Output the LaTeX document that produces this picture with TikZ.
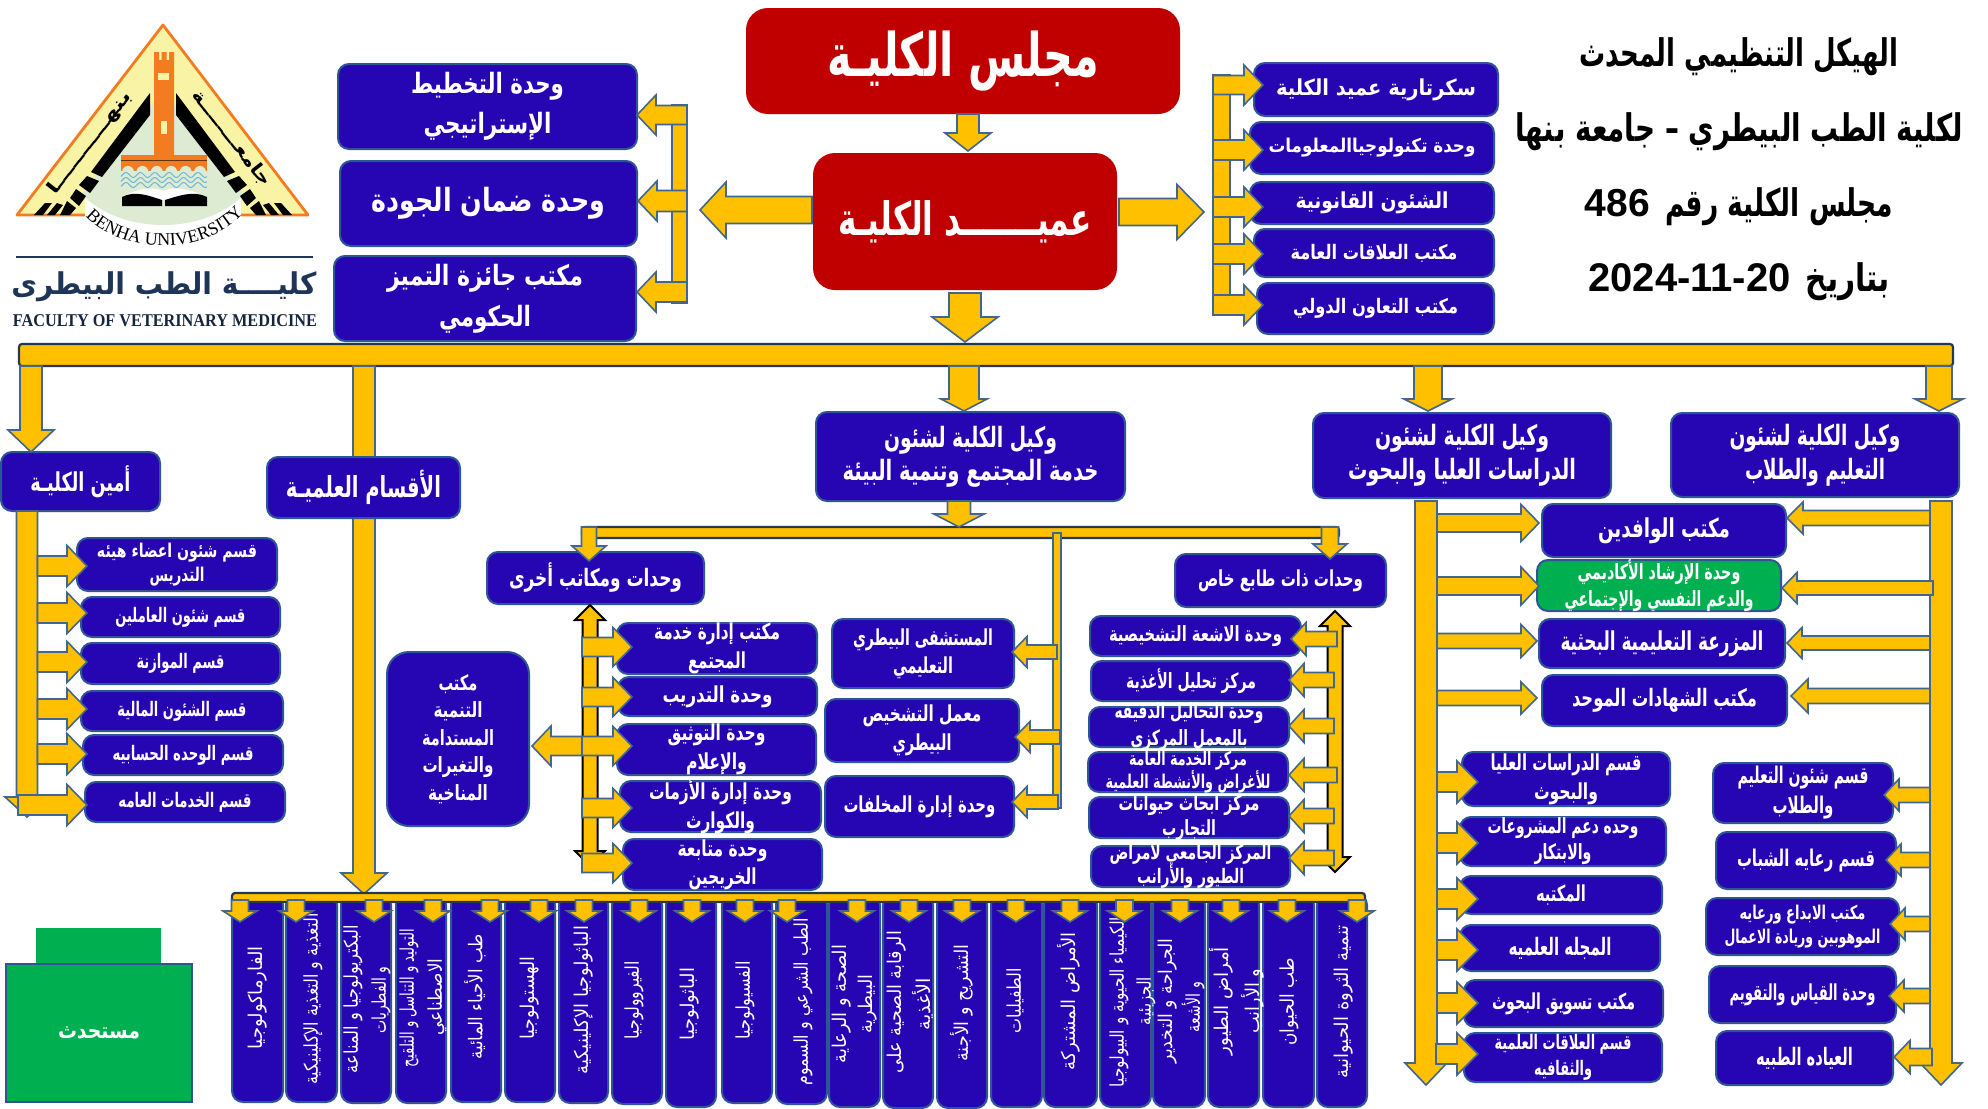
\documentclass[tikz,border=0pt]{standalone}
\usepackage{fontspec}
\usetikzlibrary{calc,decorations.text}
\TeXXeTstate=1
\newfontfamily\ar[Script=Arabic]{DejaVu Sans}
\newfontfamily\lat{Liberation Sans}
\newfontfamily\serifl{Liberation Serif}
\definecolor{ay}{HTML}{FFC000}
\definecolor{ab}{HTML}{41668F}
\definecolor{bf}{HTML}{2605B3}
\definecolor{bb}{HTML}{2F5597}
\definecolor{rf}{HTML}{C00000}
\definecolor{gf}{HTML}{00B050}
\definecolor{navy}{HTML}{1F3557}
\definecolor{orng}{HTML}{F47C20}
\definecolor{pyel}{HTML}{F9F3A5}
\definecolor{pgrn}{HTML}{DDEBD3}
\definecolor{wave}{HTML}{6FB7D8}
\tikzset{
  bluebox/.style={rectangle,rounded corners=5.5pt,fill=bf,draw=bb,line width=1pt,inner sep=0pt,outer sep=0pt},
  bigblue/.style={bluebox,rounded corners=11pt},
  redbox/.style={rectangle,rounded corners=11pt,fill=rf,draw=none,inner sep=0pt,outer sep=0pt},
  greenbox/.style={bluebox,fill=gf},
  txt/.style={inner sep=0pt,outer sep=0pt,align=center,text=white},
  vtext/.style={inner sep=0pt,outer sep=0pt,align=center,text=white,rotate=90,font=\ar\fontsize{9.5}{12}\selectfont},
  ya/.style={fill=ay,draw=ab,line width=0.8pt,line join=miter},
  yb/.style={fill=ay,draw=black,line width=1pt,line join=miter},
  barstyle/.style={rectangle,fill=ay,draw=ab,line width=0.9pt,inner sep=0pt,outer sep=0pt,minimum width=1pt},
  mainbarstyle/.style={barstyle,draw=black!45!ab,rounded corners=1.5pt,line width=1.1pt},
}
\newcommand\TL[2]{\resizebox{\dimexpr#1pt/2\relax}{\height}{#2}}
\def\bxdx{0}\def\bxdy{0}
\newcommand\off[2]{\def\bxdx{#1}\def\bxdy{#2}}
% rectangle node from corners
\newcommand\RC[6][barstyle]{\node[#1,minimum width={(#5-#3)*0.5pt},minimum height={(#6-#4)*0.5pt}] (#2) at ({(#3+#5)/2},{(#4+#6)/2}) {};}
% box + its text
\newcommand\BX[9][bluebox]{\RC[#1]{#2}{#3}{#4}{#5}{#6}%
  \node[txt,font=\ar\bfseries\fontsize{#7}{#8}\selectfont] (#2t) at ($(#2.center)+(\bxdx,\bxdy)$) {#9};\off{0}{0}}
\newcommand\VL[5]{\node[vtext] (#1) at (#2,#3) {\TL{#4}{#5}};}
% block arrow between two named coordinates: from,to,shaft half,head half,head length (px)
\newcommand\BA[6][ya]{%
  \coordinate (bna) at ($(#3)!#6*0.5pt!(#2)$);
  \draw[#1] ($(#2)!#4*0.5pt!90:(#3)$) -- ($(bna)!#4*0.5pt!-90:(#2)$) -- ($(bna)!#5*0.5pt!-90:(#2)$) -- (#3)
    -- ($(bna)!#5*0.5pt!90:(#2)$) -- ($(bna)!#4*0.5pt!90:(#2)$) -- ($(#2)!#4*0.5pt!-90:(#3)$) -- cycle;}
\newcommand\DA[5]{%
  \coordinate (bna) at ($(#1)!#5*0.5pt!(#2)$);
  \coordinate (bnb) at ($(#2)!#5*0.5pt!(#1)$);
  \draw[yb] (#1) -- ($(bna)!#4*0.5pt!-90:(#2)$) -- ($(bna)!#3*0.5pt!-90:(#2)$) -- ($(bnb)!#3*0.5pt!90:(#1)$) -- ($(bnb)!#4*0.5pt!90:(#1)$) -- (#2)
    -- ($(bnb)!#4*0.5pt!-90:(#1)$) -- ($(bnb)!#3*0.5pt!-90:(#1)$) -- ($(bna)!#3*0.5pt!90:(#2)$) -- ($(bna)!#4*0.5pt!90:(#2)$) -- cycle;}
% horizontal connector: from,sdx,to,tdx,cy,w,H,L
\newcommand\HC[8]{%
  \coordinate (tmpy) at (0,#5);
  \coordinate (tmpa) at ($(#1 |- tmpy)+(#2,0)$);
  \coordinate (tmpb) at ($(#3 |- tmpy)+(#4,0)$);
  \BA{tmpa}{tmpb}{#6}{#7}{#8}}
% vertical connector: from,sdy,to,tdy,cx,w,H,L
\newcommand\VC[8]{%
  \coordinate (tmpx) at (#5,0);
  \coordinate (tmpa) at ($(tmpx |- #1)+(0,#2)$);
  \coordinate (tmpb) at ($(tmpx |- #3)+(0,#4)$);
  \BA{tmpa}{tmpb}{#6}{#7}{#8}}
\begin{document}
\begin{tikzpicture}[x=0.5pt,y=-0.5pt]
\useasboundingbox (0,0) rectangle (1988,1109);
\fill[white] (0,0) rectangle (1988,1109);
%%% LOGO
\draw[fill=pyel,draw=orng,line width=1.4pt,line join=round] (163,25) -- (308,215) -- (17,215) -- cycle;
\fill[white] (85,190) rectangle (241,217);
\begin{scope}
\clip (163,90) -- (270,228) -- (56,228) -- cycle;
\fill[pgrn] (163,155) ellipse [x radius=98,y radius=70];
\end{scope}
\foreach \m/\s in {0/1,326/-1}{
  \fill[black] ({\m+\s*150},93) -- ({\m+\s*91},172) -- ({\m+\s*102},177) -- ({\m+\s*150},115) -- cycle;
  \fill[black] ({\m+\s*87},176) -- ({\m+\s*99},181) -- ({\m+\s*90},193) -- ({\m+\s*79},185) -- cycle;
  \fill[black] ({\m+\s*76},189) -- ({\m+\s*86},196) -- ({\m+\s*79},206) -- ({\m+\s*70},198) -- cycle;
  \fill[black] ({\m+\s*67},201) -- ({\m+\s*76},208) -- ({\m+\s*70},215) -- ({\m+\s*60},215) -- cycle;
  \fill[black] ({\m+\s*57},203) -- ({\m+\s*63},205) -- ({\m+\s*55},215) -- ({\m+\s*47},215) -- cycle;
  \fill[black] ({\m+\s*45},203) -- ({\m+\s*52},203) -- ({\m+\s*43},215) -- ({\m+\s*34},215) -- cycle;
}
\fill[orng] (154,52) -- (159,52) -- (159,60) -- (161.5,60) -- (161.5,52) -- (166.5,52) -- (166.5,60) -- (169,60) -- (169,52) -- (174,52) -- (174,155) -- (154,155) -- cycle;
\fill[pyel] (158,73) rectangle (169,80);
\fill[pyel] (161,121) rectangle (167,134);
\fill[orng] (121,155) rectangle (207,171);
\draw[black!60!orng,line width=0.4pt] (121,160) -- (207,160);
\foreach \k in {0,...,5}{\fill[pgrn] ({128+\k*14.4},172) circle [radius=6];}
\foreach \yy in {175,180,185}{
  \draw[wave,line width=0.5pt] plot[domain=121:207,samples=60] (\x,{\yy+2.5*sin(\x*25)});
}
\fill[white] (122,197) .. controls (140,187) and (155,187) .. (163,191) .. controls (171,187) and (186,187) .. (207,197) -- (207,200) -- (122,200) -- cycle;
\fill[black] (122,197) .. controls (135,190) and (150,196) .. (162,200) -- (162,206) -- (122,206) -- cycle;
\fill[black] (207,197) .. controls (194,190) and (178,196) .. (165,200) -- (165,206) -- (207,206) -- cycle;
\path[decorate,decoration={text along path,text align=center,text={|\serifl\fontsize{9}{11}\selectfont|BENHA UNIVERSITY}}]
  (83,213) .. controls (118,257) and (210,257) .. (246,210);
\node[inner sep=0pt,rotate=52,font=\ar\bfseries\fontsize{9}{10}\selectfont] (lgl) at (90,143) {\TL{125}{\beginR بنهــــــــــا\endR}};
\node[inner sep=0pt,rotate=-52,font=\ar\bfseries\fontsize{9}{10}\selectfont] (lgr) at (232,138) {\TL{117}{\beginR جامعــــــــة\endR}};
\draw[navy,line width=1pt] (16,257) -- (313,257);
\node[inner sep=0pt,text=navy,font=\ar\bfseries\fontsize{15}{18}\selectfont] (lgn) at (164,287) {\TL{305}{\beginR كليــــة الطب البيطرى\endR}};
\node[inner sep=0pt,text=navy!70!black,font=\serifl\bfseries\fontsize{9}{10}\selectfont] (lge) at (165,321) {\resizebox{152pt}{\height}{FACULTY OF VETERINARY MEDICINE}};
%%% TITLE
\node[txt,text=black,font=\ar\bfseries\fontsize{19}{22}\selectfont] (t1) at (1739,57) {\TL{319}{\beginR الهيكل التنظيمي المحدث\endR}};
\node[txt,text=black,font=\ar\bfseries\fontsize{19}{22}\selectfont] (t2) at (1739,132) {\TL{448}{\beginR لكلية الطب البيطري – جامعة بنها\endR}};
\node[txt,text=black,font=\ar\bfseries\fontsize{19}{22}\selectfont] (t3) at (1739,207) {{\lat\bfseries\fontsize{19.5}{22}\selectfont 486}\hspace{7.5pt}\TL{228}{\beginR مجلس الكلية رقم\endR}};
\node[txt,text=black,font=\ar\bfseries\fontsize{19}{22}\selectfont] (t4) at (1739,282) {{\lat\bfseries\fontsize{20}{22}\selectfont 2024-11-20}\hspace{7.5pt}\TL{84}{\beginR بتاريخ\endR}};
%%% TOP BOXES
\BX[redbox]{council}{746}{8}{1180}{114}{30}{36}{\TL{272}{\beginR مجلس الكليـة\endR}}
\BX[redbox]{dean}{813}{153}{1117}{290}{23}{28}{\TL{254}{\beginR عميـــــــد الكليـة\endR}}
\BX{boxA}{338}{64}{637}{149}{14}{20}{\TL{153}{\beginR وحدة التخطيط\endR}\\\TL{128}{\beginR الإستراتيجي\endR}}
\BX{boxB}{340}{161}{637}{246}{16}{20}{\TL{234}{\beginR وحدة ضمان الجودة\endR}}
\BX{boxC}{334}{256}{636}{341}{14}{20.5}{\TL{196}{\beginR مكتب جائزة التميز\endR}\\\TL{92}{\beginR الحكومي\endR}}
\BX{r1}{1254}{63}{1498}{116}{11}{14}{\TL{200}{\beginR سكرتارية عميد الكلية\endR}}
\BX{r2}{1250}{122}{1494}{174}{9.5}{14}{\TL{207}{\beginR وحدة تكنولوجياالمعلومات\endR}}
\BX{r3}{1250}{182}{1494}{224}{11}{14}{\TL{153}{\beginR الشئون القانونية\endR}}
\BX{r4}{1254}{229}{1494}{277}{10}{14}{\TL{167}{\beginR مكتب العلاقات العامة\endR}}
\BX{r5}{1257}{283}{1494}{334}{10}{14}{\TL{165}{\beginR مكتب التعاون الدولي\endR}}
\RC{ltrunk}{672}{105}{687}{303}
\RC{rtrunk}{1213}{75}{1230}{315}
\VC{council.south}{0}{dean.north}{-2}{968}{11}{23}{18}
\HC{dean.west}{-1}{ltrunk.east}{13}{210}{13.5}{28}{26}
\HC{dean.east}{2}{rtrunk.west}{-9}{212}{13.5}{27.5}{27}
\HC{ltrunk.east}{0}{boxA.east}{0}{115}{9.5}{20}{19}
\HC{ltrunk.east}{0}{boxB.east}{1}{201}{10.5}{20}{19}
\HC{ltrunk.east}{0}{boxC.east}{1}{292}{10}{20}{19}
\HC{rtrunk.west}{0}{r1.west}{9}{85}{9.5}{20}{19}
\HC{rtrunk.west}{0}{r2.west}{13}{150}{10}{20}{19}
\HC{rtrunk.west}{0}{r3.west}{13}{207}{10}{20}{19}
\HC{rtrunk.west}{0}{r4.west}{9}{254}{10}{20}{19}
\HC{rtrunk.west}{0}{r5.west}{6}{305}{10}{20}{19}
%%% MAIN BAR & SECOND LEVEL
\RC[mainbarstyle]{mainbar}{19}{344}{1953}{366}
\VC{dean.south}{3}{mainbar.north}{-2}{965}{16}{33}{25}
\coordinate (acadend) at (364,894);
\VC{mainbar.south}{0}{acadend}{0}{364}{11}{23}{21}
\BX{amin}{1}{452}{160}{511}{13}{16}{\TL{100}{\beginR أمين الكليـة\endR}}
\BX{acad}{267}{457}{460}{518}{14.5}{18}{\TL{155}{\beginR الأقسام العلميـة\endR}}
\BX{vice3}{816}{412}{1125}{501}{14}{16.5}{\TL{173}{\beginR وكيل الكلية لشئون\endR}\\\TL{256}{\beginR خدمة المجتمع وتنمية البيئة\endR}}
\BX{vice2}{1313}{413}{1611}{498}{14}{17}{\TL{174}{\beginR وكيل الكلية لشئون\endR}\\\TL{228}{\beginR الدراسات العليا والبحوث\endR}}
\BX{vice1}{1671}{413}{1959}{497}{14}{17}{\TL{171}{\beginR وكيل الكلية لشئون\endR}\\\TL{140}{\beginR التعليم والطلاب\endR}}
\VC{mainbar.south}{0}{vice3.north}{-1}{964}{15}{23}{12}
\VC{mainbar.south}{0}{vice2.north}{-2}{1428}{14}{24}{12}
\VC{mainbar.south}{0}{vice1.north}{-2}{1939}{13}{24}{12}
\VC{mainbar.south}{0}{amin.north}{0}{31}{11}{23}{22}
%%% LEFT COLUMN
\BX{b1}{77}{538}{277}{591}{9.5}{12}{\TL{160}{\beginR قسم شئون اعضاء هيئه\endR}\\\TL{55}{\beginR التدريس\endR}}
\BX{b2}{81}{597}{280}{637}{10}{12}{\TL{130}{\beginR قسم شئون العاملين\endR}}
\BX{b3}{81}{643}{280}{684}{10}{12}{\TL{88}{\beginR قسم الموازنة\endR}}
\BX{b4}{81}{691}{283}{731}{10}{12}{\TL{129}{\beginR قسم الشئون المالية\endR}}
\BX{b5}{83}{735}{283}{775}{10}{12}{\TL{141}{\beginR قسم الوحده الحسابيه\endR}}
\BX{b6}{85}{782}{285}{822}{10}{12}{\TL{133}{\beginR قسم الخدمات العامه\endR}}
\coordinate (aend) at (27,817);
\VC{amin.south}{0}{aend}{0}{27}{10.5}{22}{20}
\HC{aend}{10.5}{b1.west}{10}{566}{10}{20.5}{20}
\HC{aend}{10.5}{b2.west}{6}{613}{10}{20.5}{20}
\HC{aend}{10.5}{b3.west}{6}{662}{10}{20.5}{20}
\HC{aend}{10.5}{b4.west}{6}{709}{10}{20.5}{20}
\HC{aend}{10.5}{b5.west}{4}{754}{10}{20.5}{20}
\HC{aend}{-9}{b6.west}{2}{805}{10}{20.5}{20}
%%% INNER BAR
\RC[mainbarstyle]{ibar}{582}{527}{1339}{538}
\RC{tbar}{1053}{533}{1061}{808}
\VC{vice3.south}{0}{ibar.north}{0}{959}{11.5}{25}{13}
\BX{others}{487}{552}{704}{604}{12}{14}{\TL{173}{\beginR وحدات ومكاتب أخرى\endR}}
\BX{special}{1175}{554}{1386}{607}{11}{14}{\TL{165}{\beginR وحدات ذات طابع خاص\endR}}
\VC{ibar.north}{0}{others.north}{9}{589}{7.5}{17}{15}
\VC{ibar.north}{0}{special.north}{5}{1330}{8.5}{17}{15}
%%% MIDDLE BOXES
\BX{m1}{832}{619}{1014}{688}{11}{14}{\TL{140}{\beginR المستشفى البيطري\endR}\\\TL{60}{\beginR التعليمي\endR}}
\BX{m2}{825}{699}{1019}{762}{11}{14.5}{\TL{119}{\beginR معمل التشخيص\endR}\\\TL{59}{\beginR البيطري\endR}}
\BX{m3}{825}{776}{1014}{837}{11}{14}{\TL{152}{\beginR وحدة إدارة المخلفات\endR}}
\HC{tbar.center}{0}{m1.east}{-2}{652}{7}{15.5}{15}
\HC{tbar.center}{3}{m2.east}{-4}{737}{7}{15.5}{15}
\HC{tbar.center}{1}{m3.east}{-2}{802}{7}{15.5}{15}
%%% SPECIAL UNITS
\BX{s1}{1090}{616}{1301}{656}{10.5}{14}{\TL{173}{\beginR وحدة الاشعة التشخيصية\endR}}
\BX{s2}{1091}{661}{1291}{701}{10.5}{14}{\TL{130}{\beginR مركز تحليل الأغذية\endR}}
\BX{s3}{1089}{707}{1289}{747}{10.5}{13.5}{\TL{149}{\beginR وحدة التحاليل الدقيقه\endR}\\\TL{117}{\beginR بالمعمل المركزى\endR}}
\BX{s4}{1088}{752}{1288}{792}{9.5}{11.5}{\TL{118}{\beginR مركز الخدمة العامة\endR}\\\TL{165}{\beginR للأغراض والأنشطة العلمية\endR}}
\BX{s5}{1089}{797}{1289}{838}{10.5}{12.5}{\TL{141}{\beginR مركز ابحاث حيوانات\endR}\\\TL{54}{\beginR التجارب\endR}}
\BX{s6}{1091}{846}{1290}{887}{10}{12}{\TL{162}{\beginR المركز الجامعي لامراض\endR}\\\TL{107}{\beginR الطيور والأرانب\endR}}
\coordinate (stop) at (1335,611);
\coordinate (sbot) at (1335,872);
\DA{stop}{sbot}{7.5}{15}{15}
\HC{stop}{2}{s1.east}{-10}{639}{7.5}{16.5}{15}
\HC{stop}{-1}{s2.east}{-2}{680}{7.5}{16.5}{15}
\HC{stop}{-1}{s3.east}{0}{726}{7.5}{16.5}{15}
\HC{stop}{2}{s4.east}{1}{775}{7.5}{16.5}{15}
\HC{stop}{-1}{s5.east}{0}{816}{7.5}{16.5}{15}
\HC{stop}{-1}{s6.east}{-1}{858}{7.5}{16.5}{15}
%%% OTHER UNITS
\BX[bigblue]{sust}{387}{652}{529}{826}{10.5}{13.75}{\TL{39}{\beginR مكتب\endR}\\\TL{49}{\beginR التنمية\endR}\\\TL{72}{\beginR المستدامة\endR}\\\TL{71}{\beginR والتغيرات\endR}\\\TL{60}{\beginR المناخية\endR}}
\BX{u1}{617}{623}{817}{674}{11}{14.5}{\TL{126}{\beginR مكتب إدارة خدمة\endR}\\\TL{58}{\beginR المجتمع\endR}}
\BX{u2}{618}{677}{817}{716}{11}{14}{\TL{110}{\beginR وحدة التدريب\endR}}
\BX{u3}{617}{724}{816}{775}{11}{14.5}{\TL{98}{\beginR وحدة التوثيق\endR}\\\TL{61}{\beginR والإعلام\endR}}
\BX{u4}{620}{781}{821}{832}{11}{14.5}{\TL{143}{\beginR وحدة إدارة الأزمات\endR}\\\TL{69}{\beginR والكوارث\endR}}
\BX{u5}{623}{839}{822}{890}{11}{14}{\TL{90}{\beginR وحدة متابعة\endR}\\\TL{68}{\beginR الخريجين\endR}}
\coordinate (utop) at (590,605);
\coordinate (ubot) at (590,866);
\DA{utop}{ubot}{7.5}{15}{15}
\HC{utop}{-8}{u1.west}{15}{647}{9.5}{19.5}{19}
\HC{utop}{-8}{u2.west}{14}{697}{9.5}{19.5}{19}
\HC{utop}{-7}{sust.east}{3}{746}{9.5}{20}{19}
\HC{utop}{-8}{u3.west}{15}{746}{9.5}{19.5}{19}
\HC{utop}{-8}{u4.west}{12}{808}{9.5}{19.5}{19}
\HC{utop}{-8}{u5.west}{9}{863}{9.5}{19.5}{19}
%%% RIGHT COLUMNS
\coordinate (v2end) at (1426,1085);
\coordinate (v1end) at (1941,1085);
\BX{c1}{1542}{504}{1786}{557}{13}{16}{\TL{132}{\beginR مكتب الوافدين\endR}}
\BX[greenbox]{c2}{1537}{560}{1781}{611}{10.5}{13.5}{\TL{163}{\beginR وحدة الإرشاد الأكاديمي\endR}\\\TL{189}{\beginR والدعم النفسي والإجتماعي\endR}}
\BX{c3}{1539}{619}{1785}{668}{13}{16}{\TL{203}{\beginR المزرعة التعليمية البحثية\endR}}
\BX{c4}{1542}{675}{1787}{726}{12}{16}{\TL{185}{\beginR مكتب الشهادات الموحد\endR}}
\BX{g1}{1462}{752}{1670}{806}{11}{14.5}{\TL{151}{\beginR قسم الدراسات  العليا\endR}\\\TL{64}{\beginR والبحوث\endR}}
\BX{g2}{1460}{817}{1666}{866}{10.5}{13}{\TL{151}{\beginR وحده دعم المشروعات\endR}\\\TL{57}{\beginR والابتكار\endR}}
\BX{g3}{1460}{876}{1662}{914}{11}{14}{\TL{50}{\beginR المكتبه\endR}}
\BX{g4}{1460}{925}{1660}{971}{12}{14}{\TL{103}{\beginR المجله العلميه\endR}}
\BX{g5}{1464}{980}{1663}{1027}{11}{14}{\TL{143}{\beginR مكتب تسويق البحوث\endR}}
\BX{g6}{1464}{1033}{1662}{1082}{10}{13}{\TL{137}{\beginR قسم العلاقات العلمية\endR}\\\TL{58}{\beginR والثقافيه\endR}}
\BX{h1}{1713}{763}{1893}{823}{11.5}{15}{\TL{131}{\beginR قسم شئون التعليم\endR}\\\TL{61}{\beginR والطلاب\endR}}
\BX{h2}{1716}{832}{1896}{889}{11.5}{14}{\TL{138}{\beginR قسم رعايه الشباب\endR}}
\BX{h3}{1706}{898}{1899}{955}{9.5}{12}{\TL{126}{\beginR مكتب الابداع ورعايه\endR}\\\TL{156}{\beginR الموهوبين وريادة الاعمال\endR}}
\BX{h4}{1709}{966}{1896}{1023}{11}{14}{\TL{146}{\beginR وحدة القياس والتقويم\endR}}
\BX{h5}{1716}{1031}{1893}{1085}{12}{14}{\TL{97}{\beginR العياده الطبيه\endR}}
\VC{vice2.south}{3}{v2end}{0}{1426}{11}{21}{22}
\VC{vice1.south}{4}{v1end}{0}{1941}{11}{21}{22}
\HC{v2end}{11}{c1.west}{-3}{523}{9}{18.5}{18}
\HC{v2end}{11}{c2.west}{2}{586}{9}{19}{18}
\HC{v2end}{11}{c3.west}{-2}{641}{7.5}{16.5}{16}
\HC{v2end}{11}{c4.west}{-5}{698}{7.5}{16}{16}
\HC{v1end}{-11}{c1.east}{1}{518}{7.5}{16}{16}
\HC{v1end}{-8}{c2.east}{1}{588}{7}{15.5}{15}
\HC{v1end}{-11}{c3.east}{2}{643}{7}{15.5}{15}
\HC{v1end}{-11}{c4.east}{4}{696}{7.5}{17}{17}
\HC{v2end}{11}{g1.west}{16}{782}{10}{21}{21}
\HC{v2end}{11}{g2.west}{18}{843}{10}{21}{21}
\HC{v2end}{11}{g3.west}{18}{899}{10}{21}{21}
\HC{v2end}{11}{g4.west}{18}{950}{10}{21}{21}
\HC{v2end}{11}{g5.west}{14}{1003}{10}{21}{21}
\HC{v2end}{10}{g6.west}{14}{1054}{10}{21}{21}
\HC{v1end}{-11}{h1.east}{-9}{795}{7.5}{16}{15}
\HC{v1end}{-11}{h2.east}{-10}{860}{7.5}{16}{15}
\HC{v1end}{-11}{h3.east}{-9}{924}{7.5}{16}{15}
\HC{v1end}{-11}{h4.east}{-7}{996}{7.5}{16}{15}
\HC{v1end}{-9}{h5.east}{1}{1057}{8.5}{16.5}{16}
%%% BOTTOM COLUMNS
\RC[bluebox]{col1}{232}{894}{283}{1102}
\RC[bluebox]{col2}{286}{894}{337}{1102}
\RC[bluebox]{col3}{341}{894}{391}{1103}
\RC[bluebox]{col4}{396}{894}{446}{1103}
\RC[bluebox]{col5}{451}{894}{501}{1102}
\RC[bluebox]{col6}{505}{894}{555}{1102}
\RC[bluebox]{col7}{559}{894}{608}{1103}
\RC[bluebox]{col8}{612}{894}{662}{1104}
\RC[bluebox]{col9}{666}{894}{716}{1107}
\RC[bluebox]{col10}{722}{894}{772}{1103}
\RC[bluebox]{col11}{776}{894}{827}{1104}
\RC[bluebox]{col12}{829}{894}{880}{1107}
\RC[bluebox]{col13}{883}{894}{933}{1108}
\RC[bluebox]{col14}{937}{894}{987}{1108}
\RC[bluebox]{col15}{991}{894}{1042}{1107}
\RC[bluebox]{col16}{1044}{894}{1097}{1107}
\RC[bluebox]{col17}{1100}{894}{1151}{1107}
\RC[bluebox]{col18}{1153}{894}{1205}{1107}
\RC[bluebox]{col19}{1208}{894}{1259}{1107}
\RC[bluebox]{col20}{1263}{894}{1314}{1107}
\RC[bluebox]{col21}{1317}{894}{1367}{1107}
\RC[mainbarstyle]{botbar}{232}{893}{1365}{902}
\VL{col1t}{257.5}{998}{103}{\beginR الفارماكولوجيا\endR}
\VL{col2t}{313}{999}{171}{\beginR التغذية و التغذية الإكلينيكية\endR}
\VL{col3t}{353}{999}{148}{\beginR البكتريولوجيا و المناعة\endR}
\VL{col3u}{381}{1000}{67}{\beginR و الفطريات\endR}
\VL{col4t}{409}{998}{138}{\beginR التوليد و التناسل و التلقيح\endR}
\VL{col4u}{437}{997}{77}{\beginR الاصطناعي\endR}
\VL{col5t}{475}{997}{125}{\beginR طب الأحياء المائية\endR}
\VL{col6t}{530}{998}{83}{\beginR الهستولوجيا\endR}
\VL{col7t}{584}{1000}{148}{\beginR الباثولوجيا الإكلينيكية\endR}
\VL{col8t}{634}{1000}{78}{\beginR الفيروولوجيا\endR}
\VL{col9t}{690}{1004}{72}{\beginR الباثولوجيا\endR}
\VL{col10t}{745}{1000}{78}{\beginR الفسيولوجيا\endR}
\VL{col11t}{803}{1002}{167}{\beginR الطب الشرعي و السموم\endR}
\VL{col12t}{842}{1004}{118}{\beginR الصحة و الرعاية\endR}
\VL{col12u}{868}{1004}{59}{\beginR البيطرية\endR}
\VL{col13t}{897}{1002}{142}{\beginR الرقابة الصحية على\endR}
\VL{col13u}{923}{1004}{52}{\beginR الأغذية\endR}
\VL{col14t}{962}{1003}{117}{\beginR التشريح و الأجنة\endR}
\VL{col15t}{1015}{1001}{65}{\beginR الطفيليات\endR}
\VL{col16t}{1069}{1001}{138}{\beginR الأمراض المشتركة\endR}
\VL{col17t}{1119}{1002}{170}{\beginR الكيمياء الحيوية و البيولوجيا\endR}
\VL{col17u}{1146}{1001}{48}{\beginR الجزيئية\endR}
\VL{col18t}{1168}{1001}{125}{\beginR الجراحة و التخدير\endR}
\VL{col18u}{1193}{1007}{50}{\beginR و الأشعة\endR}
\VL{col19t}{1221}{1001}{108}{\beginR أمراض الطيور\endR}
\VL{col19u}{1253}{1001}{65}{\beginR و الأرانب\endR}
\VL{col20t}{1289}{1002}{87}{\beginR طب الحيوان\endR}
\VL{col21t}{1344}{1002}{153}{\beginR تنمية الثروة الحيوانية\endR}
\VC{botbar.south}{-2}{col1.north}{28}{240}{8.5}{17}{11}
\VC{botbar.south}{-2}{col2.north}{28}{296}{8.5}{17}{11}
\VC{botbar.south}{-2}{col3.north}{28}{374}{8.5}{17}{11}
\VC{botbar.south}{-2}{col4.north}{28}{433}{8.5}{17}{11}
\VC{botbar.south}{-2}{col5.north}{28}{490}{8.5}{17}{11}
\VC{botbar.south}{-2}{col6.north}{28}{539}{8.5}{17}{11}
\VC{botbar.south}{-2}{col7.north}{28}{584}{8.5}{17}{11}
\VC{botbar.south}{-2}{col8.north}{28}{639}{8.5}{17}{11}
\VC{botbar.south}{-2}{col9.north}{28}{692}{8.5}{17}{11}
\VC{botbar.south}{-2}{col10.north}{28}{745}{8.5}{17}{11}
\VC{botbar.south}{-2}{col11.north}{28}{787}{8.5}{17}{11}
\VC{botbar.south}{-2}{col12.north}{28}{857}{8.5}{17}{11}
\VC{botbar.south}{-2}{col13.north}{28}{909}{8.5}{17}{11}
\VC{botbar.south}{-2}{col14.north}{28}{962}{8.5}{17}{11}
\VC{botbar.south}{-2}{col15.north}{28}{1016}{8.5}{17}{11}
\VC{botbar.south}{-2}{col16.north}{28}{1070}{8.5}{17}{11}
\VC{botbar.south}{-2}{col17.north}{28}{1124.5}{8.5}{17}{11}
\VC{botbar.south}{-2}{col18.north}{28}{1180}{8.5}{17}{11}
\VC{botbar.south}{-2}{col19.north}{28}{1231}{8.5}{17}{11}
\VC{botbar.south}{-2}{col20.north}{28}{1287}{8.5}{17}{11}
\VC{botbar.south}{-2}{col21.north}{28}{1357}{8.5}{17}{11}
%%% LEGEND
\RC[rectangle,fill=gf,draw=none,inner sep=0pt,outer sep=0pt]{leg2}{36}{928}{161}{964}
\BX[rectangle,fill=gf,draw=bb,line width=1pt,inner sep=0pt,outer sep=0pt]{leg1}{6}{964}{192}{1102}{11}{14}{\TL{82}{\beginR مستحدث\endR}}
\end{tikzpicture}
\end{document}
